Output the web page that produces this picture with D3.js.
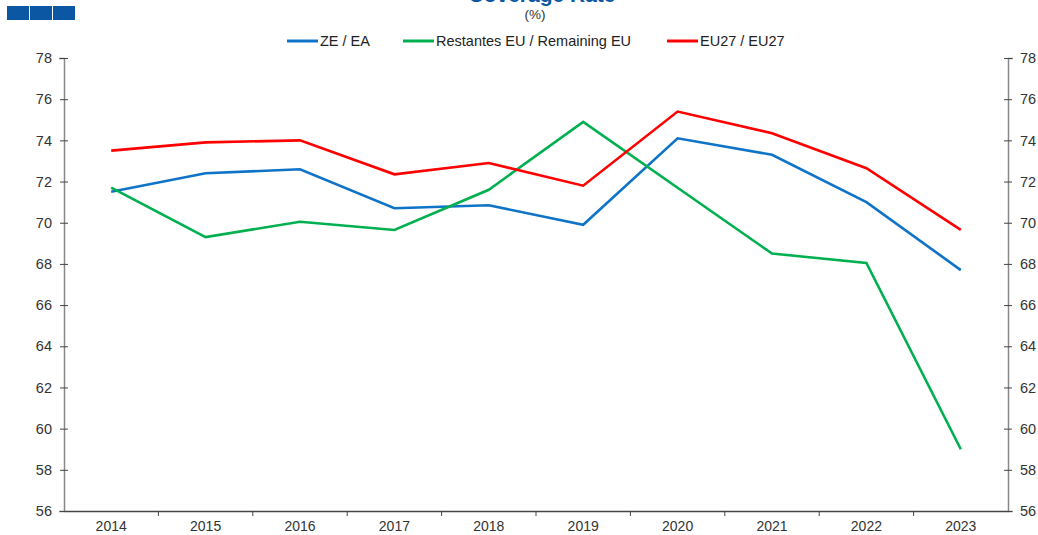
<!DOCTYPE html>
<html>
<head>
<meta charset="utf-8">
<script src="https://cdn.jsdelivr.net/npm/d3@7"></script>
<style>
  body { margin: 0; background: #fff; }
  text { font-family: "Liberation Sans", Arial, sans-serif; }
</style>
</head>
<body>
<script>
// data
const years = ["2014", "2015", "2016", "2017", "2018", "2019", "2020", "2021", "2022", "2023"];
const ea = [71.5, 72.4, 72.6, 70.7, 70.85, 69.9, 74.1, 73.3, 71.0, 67.7];
const remaining = [71.7, 69.3, 70.05, 69.65, 71.6, 74.9, 71.7, 68.5, 68.05, 59.0];
const eu27 = [73.5, 73.9, 74.0, 72.35, 72.9, 71.8, 75.4, 74.35, 72.65, 69.65];
const yTicks = [56, 58, 60, 62, 64, 66, 68, 70, 72, 74, 76, 78];

const series = [
  {name: "ZE / EA", values: ea, color: "#0f74c8"},
  {name: "Restantes EU / Remaining EU", values: remaining, color: "#00b050"},
  {name: "EU27 / EU27", values: eu27, color: "#ff0000"}
];

const W = 1038, H = 535;
const margin = {top: 58, right: 30, bottom: 24, left: 64};
const width = W - margin.left - margin.right,
    height = H - margin.top - margin.bottom;

const svg = d3.select("body").append("svg")
    .attr("width", W)
    .attr("height", H);

// small logo squares top-left
svg.selectAll(".logo")
  .data([7, 30, 53])
  .enter().append("rect")
    .attr("x", d => d)
    .attr("y", 6)
    .attr("width", 22)
    .attr("height", 14)
    .attr("fill", "#0b57a4");

// title, cut at top like the original
svg.append("text")
    .attr("x", 542).attr("y", 2)
    .attr("text-anchor", "middle")
    .attr("font-size", 21).attr("font-weight", "bold")
    .attr("fill", "#0b57a4")
    .text("Coverage Rate");
svg.append("text")
    .attr("x", 535).attr("y", 19)
    .attr("text-anchor", "middle")
    .attr("font-size", 13.5).attr("fill", "#333")
    .text("(%)");

// legend
const legendX = [287, 403, 667];
const legend = svg.selectAll(".legend")
  .data(series)
  .enter().append("g")
    .attr("transform", (d, i) => `translate(${legendX[i]}, 41)`);
legend.append("line")
    .attr("x1", 0).attr("x2", 31)
    .attr("stroke", d => d.color).attr("stroke-width", 3);
legend.append("text")
    .attr("x", 33).attr("y", 5)
    .attr("font-size", 14.5).attr("fill", "#222")
    .text(d => d.name);

const g = svg.append("g")
    .attr("transform", `translate(${margin.left}, ${margin.top})`);

const x = d3.scaleBand().domain(years).range([0, width]);
const y = d3.scaleLinear().domain([56, 78]).range([height, 0]);

// left axis
const yl = g.append("g")
    .call(d3.axisLeft(y).tickValues(yTicks).tickSize(5).tickPadding(7));
// right axis
const yr = g.append("g")
    .attr("transform", `translate(${width}, 0)`)
    .call(d3.axisRight(y).tickValues(yTicks).tickSize(5).tickPadding(7));
[yl, yr].forEach(a => {
  a.select(".domain").attr("stroke", "#888").attr("stroke-width", 1.5);
  a.selectAll(".tick line").attr("stroke", "#444").attr("x1", -4).attr("x2", 4);
  a.selectAll("text").attr("font-size", 14.5).attr("fill", "#333")
    .attr("font-family", "Liberation Sans, Arial, sans-serif");
});

// x axis with ticks between categories
const xa = g.append("g")
    .attr("transform", `translate(0, ${height})`)
    .call(d3.axisBottom(x).tickSize(0).tickPadding(10));
xa.select(".domain").attr("stroke", "#444").attr("stroke-width", 1.5);
xa.selectAll("text").attr("font-size", 14).attr("fill", "#333")
    .attr("font-family", "Liberation Sans, Arial, sans-serif");
xa.selectAll(".sep")
  .data(years.slice(1))
  .enter().append("line")
    .attr("x1", d => x(d)).attr("x2", d => x(d))
    .attr("y1", 0).attr("y2", 5)
    .attr("stroke", "#444");

// lines
const line = d3.line()
    .x((d, i) => x(years[i]) + x.bandwidth() / 2)
    .y(d => y(d));

g.selectAll(".series")
  .data(series)
  .enter().append("path")
    .attr("fill", "none")
    .attr("stroke", d => d.color)
    .attr("stroke-width", 2.6)
    .attr("d", d => line(d.values));
</script>
</body>
</html>
